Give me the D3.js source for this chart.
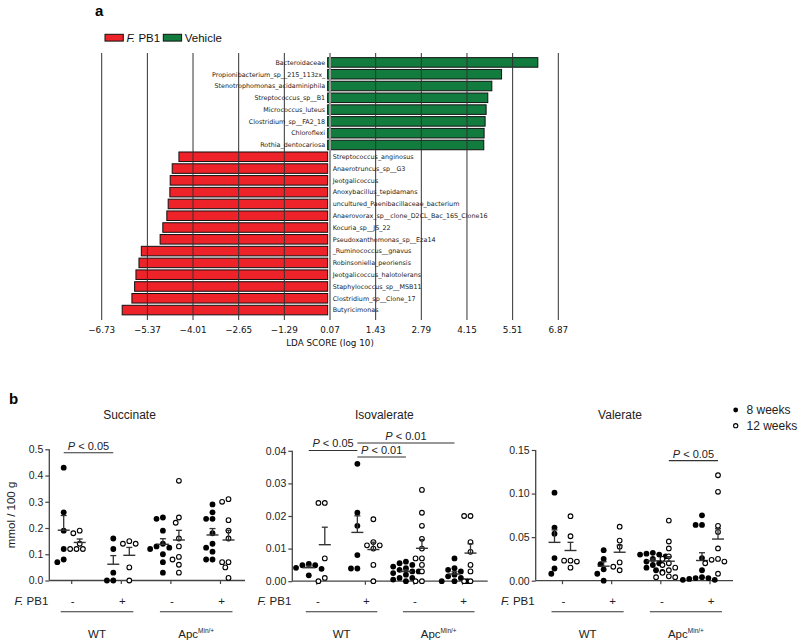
<!DOCTYPE html>
<html><head><meta charset="utf-8">
<script src="https://cdn.jsdelivr.net/npm/d3@7"></script>
<style>body{margin:0;background:#fff}svg{display:block}</style>
</head><body><svg id="c" width="800" height="644"></svg>
<script>
// ---------- Panel a data (LEfSe) ----------
const ldaTaxa = ["Bacteroidaceae","Propionibacterium_sp__215_113zx_","Stenotrophomonas_acidaminiphila","Streptococcus_sp__B1","Micrococcus_luteus","Clostridium_sp__FA2_18","Chloroflexi","Rothia_dentocariosa",
 "Streptococcus_anginosus","Anaerotruncus_sp__G3","Jeotgalicoccus","Anoxybacillus_tepidamans","uncultured_Paenibacillaceae_bacterium","Anaerovorax_sp__clone_D2CL_Bac_16S_Clone16","Kocuria_sp__JS_22","Pseudoxanthomonas_sp__Eza14","_Ruminococcus__gnavus","Robinsoniella_peoriensis","Jeotgalicoccus_halotolerans","Staphylococcus_sp__MSB11","Clostridium_sp__Clone_17","Butyricimonas"];
const ldaScores = [6.26,5.18,4.89,4.77,4.72,4.69,4.66,4.65,
 -4.43,-4.63,-4.69,-4.70,-4.75,-4.79,-4.91,-4.99,-5.55,-5.62,-5.71,-5.75,-5.83,-6.12];
const ldaTicks = [-6.73,-5.37,-4.01,-2.65,-1.29,0.07,1.43,2.79,4.15,5.51,6.87];
const ldaClasses = ["F. PB1","Vehicle"];

// ---------- Panel b data ----------
const groupNames = ["WT-","WT+","Apc-","Apc+"];
const pb1Signs = ["-","+","-","+"];
const genotypes = ["WT","Apc"];
const succinate8w = [[0.43,0.26,0.19,0.12,0.07,0.08],[0.16,0.12,0.03,0,0],[0.24,0.235,0.19,0.14,0.13,0.125,0.12,0.10,0.07,0.03],[0.29,0.26,0.235,0.235,0.18,0.14,0.125,0.11,0.08,0.08]];
const succinate12w = [[0.19,0.18,0.14,0.12,0.12,0.12],[0.15,0.14,0.14,0.05,0],[0.38,0.24,0.22,0.16,0.13,0.09,0.08,0.06,0.03],[0.31,0.30,0.23,0.19,0.16,0.07,0.07,0.05,0.01]];
const isovalerate8w = [[0.0049,0.0053,0.0049,0.0041,0.0038,0.0018],[0.036,0.021,0.017,0.008,0.0039,0.0039],[0.006,0.0055,0.005,0.0045,0.004,0.0035,0.003,0.003,0.0025,0.002,0.001,0.001,0.0005,0],[0.007,0.004,0.0035,0.003,0.002,0.0015,0.001,0,0,0]];
const isovalerate12w = [[0.024,0.024,0.007,0.001,0],[0.019,0.012,0.011,0.011,0.010,0.005,0],[0.028,0.021,0.017,0.013,0.010,0.007,0.007,0.005,0.003,0,0],[0.020,0.020,0.012,0.009,0.005,0.003,0,0]];
const valerate8w = [[0.101,0.061,0.054,0.026,0.014,0.008],[0.035,0.025,0.019,0.013,0.008,0],[0.032,0.031,0.030,0.030,0.028,0.025,0.022,0.020,0.018,0.015,0.012,0.010],[0.075,0.064,0.064,0.026,0.012,0.004,0.003,0.003,0.002,0.001,0.001]];
const valerate12w = [[0.074,0.051,0.023,0.022,0.023,0.015],[0.062,0.046,0.039,0.021,0.016,0.012],[0.069,0.045,0.037,0.028,0.025,0.020,0.018,0.015,0.012,0.009,0.005,0.004,0.004],[0.121,0.102,0.063,0.056,0.037,0.025,0.024,0.022,0.020,0.008]];
const panelTitles = ["Succinate","Isovalerate","Valerate"];
const panelYMax = [0.5,0.04,0.15];
const panelYTicks = [[0,0.1,0.2,0.3,0.4,0.5],[0,0.01,0.02,0.03,0.04],[0,0.05,0.10,0.15]];
const panelYFormat = [".1f",".2f",".2f"];
// significance brackets: [panel, groupA, ageA(0=8w,1=12w), groupB, ageB, yValue, label]
const sigBrackets = [
 [0,0,0,1,0,0.487,"0.05"],
 [1,0,0,1,0,0.0401,"0.05"],
 [1,1,0,3,0,0.0424,"0.01"],
 [1,1,0,2,0,0.0381,"0.01"],
 [2,2,1,3,1,0.1378,"0.05"]
];
const ageLabels = ["8 weeks","12 weeks"];

const svg = d3.select("#c");
const SANS = "'Liberation Sans', Arial, sans-serif";
const DJ = "'DejaVu Sans', sans-serif";
const RED = "#ee2229", GREEN = "#117c3e";

// ================= Panel a =================
const ga = svg.append("g");
ga.append("text").attr("x",95).attr("y",16).attr("font-family",SANS).attr("font-weight","bold").attr("font-size",15).text("a");
const xa = d3.scaleLinear().domain([-6.73,6.87]).range([101.7,558.3]);
const ya = d3.scaleBand().domain(ldaTaxa).range([57.65,314.85]).paddingInner(0.19);
ga.selectAll("rect.bar").data(ldaTaxa).join("rect")
  .attr("x",(d,i)=>Math.min(xa(0),xa(ldaScores[i])))
  .attr("width",(d,i)=>Math.abs(xa(ldaScores[i])-xa(0)))
  .attr("y",d=>ya(d)).attr("height",ya.bandwidth())
  .attr("fill",(d,i)=>ldaScores[i]<0?RED:GREEN).attr("stroke","#111").attr("stroke-width",1);
ga.selectAll("line.grid").data(ldaTicks).join("line")
  .attr("x1",d=>xa(d)).attr("x2",d=>xa(d)).attr("y1",53).attr("y2",320)
  .attr("stroke",d=>d===0.07?"#999":"#333").attr("stroke-width",d=>d===0.07?2:1);
ga.selectAll("text.lab").data(ldaTaxa).join("text")
  .attr("x",(d,i)=>ldaScores[i]>0?xa(0)-2.5:xa(0)+5)
  .attr("y",d=>ya(d)+ya.bandwidth()/2+2.3)
  .attr("text-anchor",(d,i)=>ldaScores[i]>0?"end":"start")
  .attr("font-family",DJ).attr("font-size",6.4).attr("fill","#1a1a1a").style("text-rendering","geometricPrecision").text(d=>d);
ga.selectAll("text.tick").data(ldaTicks).join("text")
  .attr("x",d=>xa(d)).attr("y",332.6).attr("text-anchor","middle")
  .attr("font-family",DJ).attr("font-size",8.8).attr("fill","#111")
  .text(d=>d3.format(".2f")(d).replace("-","\u2212"));
ga.append("text").attr("x",xa(0.07)).attr("y",345.6).attr("text-anchor","middle")
  .attr("font-family",DJ).attr("font-size",8.8).attr("fill","#111").text("LDA SCORE (log 10)");
const legX = [105,163.3];
ldaClasses.forEach((c,i)=>{
  ga.append("rect").attr("x",legX[i]).attr("y",34.3).attr("width",18.3).attr("height",6.8)
    .attr("fill",i===0?RED:GREEN).attr("stroke","#111").attr("stroke-width",1);
  const t = ga.append("text").attr("x",legX[i]+21.5).attr("y",42).attr("font-family",SANS).attr("font-size",11.5).attr("fill","#111");
  if(i===0){ t.append("tspan").attr("font-style","italic").text("F."); t.append("tspan").text(" PB1"); }
  else t.text(c);
});

// ================= Panel b =================
const gb = svg.append("g");
gb.append("text").attr("x",9).attr("y",404).attr("font-family",SANS).attr("font-weight","bold").attr("font-size",15).text("b");
const panels = [
  {axisX:49.3, xEnd:245, gRange:[71.7,220.5], titleX:129.5, y0:580.5, yTop:449.3, d8:succinate8w, d12:succinate12w},
  {axisX:292.3, xEnd:487.7, gRange:[316.8,462.5], titleX:384.3, y0:581.2, yTop:450.8, d8:isovalerate8w, d12:isovalerate12w},
  {axisX:535.7, xEnd:733, gRange:[562.5,710], titleX:620, y0:580.7, yTop:450, d8:valerate8w, d12:valerate12w}
];
const R = 2.9;
function swarm(vals, cx, y){
  const pts = vals.map(v=>({v,y:y(v)})).sort((a,b)=>a.y-b.y);
  const placed=[]; const step=R*1.1, dmin=2*R+0.2;
  pts.forEach(p=>{
    for(let k=0;k<40;k++){
      const off=(k%2===1?-1:1)*Math.ceil(k/2)*step;
      const x=cx+off;
      if(placed.every(q=>(q.x-x)**2+(q.y-p.y)**2>=dmin*dmin)){p.x=x;break;}
    }
    placed.push(p);
  });
  return placed;
}
const colOff = [-8,8];
panels.forEach((P,pi)=>{
  const g = gb.append("g");
  const y = d3.scaleLinear().domain([0,panelYMax[pi]]).range([P.y0,P.yTop]);
  const xg = d3.scalePoint().domain(groupNames).range(P.gRange);
  g.append("text").attr("x",P.titleX).attr("y",419).attr("text-anchor","middle")
   .attr("font-family",SANS).attr("font-size",12).attr("fill","#222").text(panelTitles[pi]);
  const ay = g.append("g").attr("transform",`translate(${P.axisX},0)`)
    .call(d3.axisLeft(y).tickValues(panelYTicks[pi]).tickFormat(d3.format(panelYFormat[pi])).tickSize(4).tickPadding(2));
  ay.select(".domain").attr("stroke","#444").attr("stroke-width",1.3).attr("d",`M0,${P.yTop}V${P.y0}`);
  ay.selectAll(".tick line").attr("stroke","#444").attr("stroke-width",1.2);
  ay.selectAll(".tick text").attr("font-family",SANS).attr("font-size",10.5).attr("fill","#222");
  g.append("line").attr("x1",P.axisX).attr("x2",P.xEnd).attr("y1",P.y0).attr("y2",P.y0).attr("stroke","#444").attr("stroke-width",1.3);
  g.selectAll("line.xt").data(groupNames).join("line")
   .attr("x1",d=>xg(d)).attr("x2",d=>xg(d)).attr("y1",P.y0).attr("y2",P.y0+3.5).attr("stroke","#444").attr("stroke-width",1.2);
  if(pi===0){
    g.append("text").attr("transform",`translate(15,${(P.y0+P.yTop)/2}) rotate(-90)`).attr("text-anchor","middle")
     .attr("font-family",SANS).attr("font-size",11.5).attr("fill","#222").text("mmol / 100 g");
  }
  [P.d8,P.d12].forEach((ds,ai)=>{
    ds.forEach((vals,gi)=>{
      const cx = xg(groupNames[gi])+colOff[ai];
      const pts = swarm(vals,cx,y);
      g.selectAll(null).data(pts).join("circle")
        .attr("cx",d=>d.x).attr("cy",d=>d.y).attr("r",ai===0?R:R-0.55)
        .attr("fill",ai===0?"#000":"#fff").attr("stroke","#000").attr("stroke-width",ai===0?0:1.1);
      const m = d3.mean(vals), sem = d3.deviation(vals)/Math.sqrt(vals.length);
      g.append("line").attr("x1",cx-6).attr("x2",cx+6).attr("y1",y(m)).attr("y2",y(m)).attr("stroke","#333").attr("stroke-width",1.4);
      g.append("line").attr("x1",cx).attr("x2",cx).attr("y1",y(m)).attr("y2",y(m+sem)).attr("stroke","#333").attr("stroke-width",1.3);
      g.append("line").attr("x1",cx-3).attr("x2",cx+3).attr("y1",y(m+sem)).attr("y2",y(m+sem)).attr("stroke","#333").attr("stroke-width",1.3);
    });
  });
  sigBrackets.filter(b=>b[0]===pi).forEach(b=>{
    const x1 = xg(groupNames[b[1]])+colOff[b[2]], x2 = xg(groupNames[b[3]])+colOff[b[4]];
    const yy = y(b[5]);
    g.append("line").attr("x1",x1).attr("x2",x2).attr("y1",yy).attr("y2",yy).attr("stroke","#333").attr("stroke-width",1.1);
    const t = g.append("text").attr("x",(x1+x2)/2).attr("y",yy-3).attr("text-anchor","middle")
      .attr("font-family",SANS).attr("font-size",11).attr("fill","#222");
    t.append("tspan").attr("font-style","italic").text("P");
    t.append("tspan").text(" < "+b[6]);
  });
  const fr = g.append("text").attr("x",P.axisX-1).attr("y",604.5).attr("text-anchor","end")
    .attr("font-family",SANS).attr("font-size",11.5).attr("fill","#222");
  fr.append("tspan").attr("font-style","italic").text("F.");
  fr.append("tspan").text(" PB1");
  g.selectAll("text.sg").data(groupNames).join("text")
    .attr("x",d=>xg(d)+1).attr("y",604.5).attr("text-anchor","middle")
    .attr("font-family",SANS).attr("font-size",11.5).attr("fill","#222").text((d,i)=>pb1Signs[i]);
  genotypes.forEach((gt,k)=>{
    const a = xg(groupNames[2*k])-11, bx = xg(groupNames[2*k+1])+12;
    g.append("line").attr("x1",a).attr("x2",bx).attr("y1",611.7).attr("y2",611.7).attr("stroke","#333").attr("stroke-width",1.1);
    const t = g.append("text").attr("x",(a+bx)/2).attr("y",637.5).attr("text-anchor","middle")
      .attr("font-family",SANS).attr("font-size",11.5).attr("fill","#222");
    if(gt==="WT") t.text("WT");
    else { t.append("tspan").text("Apc"); t.append("tspan").attr("font-size",6.5).attr("dy",-4.5).text("Min/+"); }
  });
});
ageLabels.forEach((l,i)=>{
  const yy = 410 + i*15.7;
  gb.append("circle").attr("cx",735.7).attr("cy",yy).attr("r",i===0?2.4:2.1)
    .attr("fill",i===0?"#000":"#fff").attr("stroke","#000").attr("stroke-width",i===0?0:1.1);
  gb.append("text").attr("x",746.5).attr("y",yy+4).attr("font-family",SANS).attr("font-size",12).attr("fill","#222").text(l);
});
</script></body></html>
